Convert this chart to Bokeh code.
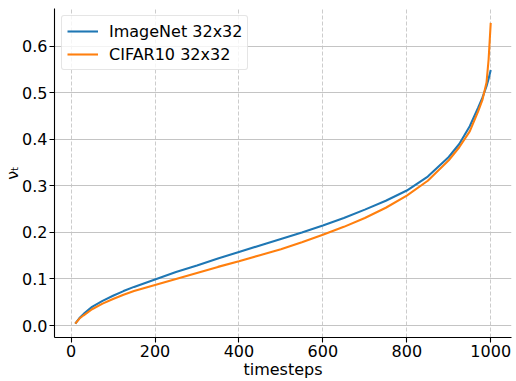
from bokeh.plotting import figure
from bokeh.models import Range1d, FixedTicker, Legend, LegendItem, ColumnDataSource
from bokeh.embed import file_html
from bokeh.resources import INLINE

# ---- data ----
timesteps = [10, 20, 30, 50, 75, 100, 125, 150, 200, 250, 300, 350, 400, 450, 500,
             550, 600, 650, 700, 750, 800, 850, 900, 925, 950, 970, 980, 990, 995, 1000]
imagenet = [0.004, 0.016, 0.025, 0.040, 0.053, 0.064, 0.074, 0.083, 0.099, 0.115, 0.129,
            0.144, 0.158, 0.172, 0.186, 0.200, 0.215, 0.231, 0.249, 0.268, 0.290, 0.320,
            0.362, 0.390, 0.428, 0.468, 0.489, 0.514, 0.530, 0.549]
cifar10 = [0.004, 0.015, 0.022, 0.035, 0.047, 0.057, 0.066, 0.074, 0.087, 0.100, 0.113,
           0.126, 0.138, 0.151, 0.164, 0.179, 0.195, 0.212, 0.231, 0.253, 0.279, 0.311,
           0.355, 0.383, 0.417, 0.460, 0.484, 0.522, 0.572, 0.650]
series_names = ["ImageNet 32x32", "CIFAR10 32x32"]
x_ticks = [0, 200, 400, 600, 800, 1000]
y_ticks = [0.0, 0.1, 0.2, 0.3, 0.4, 0.5, 0.6]
y_tick_labels = ["0.0", "0.1", "0.2", "0.3", "0.4", "0.5", "0.6"]
x_label = "timesteps"
y_label = "\u03bd\u209c"

FONT = "DejaVu Sans"
FS = "16px"

p = figure(width=516, height=381, output_backend="svg", toolbar_location=None,
           x_range=Range1d(-39.5, 1049.5), y_range=Range1d(-0.0257, 0.681),
           min_border_left=53, min_border_right=5, min_border_top=8, min_border_bottom=43)
p.background_fill_color = "white"
p.border_fill_color = "white"
p.outline_line_color = None

src = ColumnDataSource(dict(t=timesteps, a=imagenet, b=cifar10))
r1 = p.line("t", "a", source=src, line_color="#1f77b4", line_width=2.08)
r2 = p.line("t", "b", source=src, line_color="#ff7f0e", line_width=2.08)

# axes
for ax in (p.xaxis[0], p.yaxis[0]):
    ax.axis_line_color = "black"
    ax.axis_line_width = 1.1
    ax.major_tick_line_color = "black"
    ax.major_tick_line_width = 1.1
    ax.major_tick_out = 5
    ax.major_tick_in = 0
    ax.minor_tick_line_color = None
    ax.major_label_text_font = FONT
    ax.major_label_text_font_size = FS
    ax.major_label_text_color = "black"
    ax.major_label_standoff = 3
    ax.axis_label_text_font = FONT
    ax.axis_label_text_font_size = FS
    ax.axis_label_text_font_style = "normal"
    ax.axis_label_text_color = "black"

p.xaxis.major_label_standoff = 2
p.xaxis.axis_label_standoff = 0
p.yaxis.major_label_standoff = 2
p.yaxis.axis_label_standoff = -3
p.xaxis.ticker = FixedTicker(ticks=x_ticks)
p.yaxis.ticker = FixedTicker(ticks=y_ticks)
p.yaxis.major_label_overrides = {t: l for t, l in zip(y_ticks, y_tick_labels)}
p.xaxis.axis_label = x_label
p.yaxis.axis_label = y_label

# grids
p.xgrid.grid_line_color = "#cccccc"
p.xgrid.grid_line_dash = "4 2"
p.xgrid.grid_line_width = 1
p.ygrid.grid_line_color = "#c4c4c4"
p.ygrid.grid_line_width = 1

legend = Legend(items=[LegendItem(label=series_names[0], renderers=[r1]),
                       LegendItem(label=series_names[1], renderers=[r2])],
                location="top_left", margin=7, padding=5, spacing=3,
                glyph_width=31, glyph_height=20, label_height=20, label_standoff=11,
                label_text_font=FONT, label_text_font_size=FS, label_text_color="black",
                border_line_color="#cccccc", border_line_width=1,
                background_fill_color="white", background_fill_alpha=0.8)
try:
    if "border_radius" in Legend.properties():
        legend.border_radius = 3
except Exception:
    pass
p.add_layout(legend)

open("out.html", "w").write(file_html(p, INLINE))
